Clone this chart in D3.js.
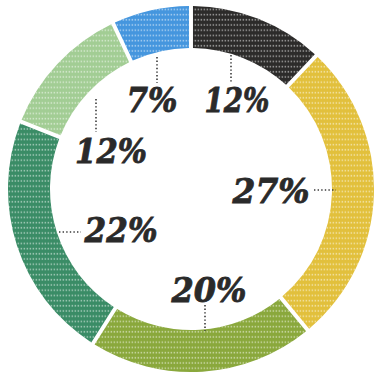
<!DOCTYPE html>
<html>
<head>
<meta charset="utf-8">
<script src="https://cdn.jsdelivr.net/npm/d3@7"></script>
<style>
  html, body { margin: 0; padding: 0; background: #fff; }
  svg { display: block; }
</style>
</head>
<body>
<svg id="chart" width="374" height="375"></svg>
<script>
// Shares, clockwise from 12 o'clock
const segments = ["black", "yellow", "olive", "green", "lightgreen", "blue"];
const shares = [12, 27, 20, 22, 12, 7];
const segmentColors = ["#2c2b2a", "#e2c03c", "#8aa83c", "#3a8c66", "#a2cd94", "#4596de"];
const labelText = shares.map(v => v + "%");

// Where each label and its dotted leader sit
const labelLayout = [
  { x: 237, y: 112, w: 65, leader: [231, 55, 231, 83] },
  { x: 271, y: 203, w: 77, leader: [314, 190, 336, 190] },
  { x: 209, y: 302, w: 75, leader: [205, 305, 205, 331] },
  { x: 121, y: 242, w: 73, leader: [59, 232, 81, 232] },
  { x: 111, y: 163, w: 72, leader: [96, 99, 96, 132] },
  { x: 152, y: 112, w: 51, leader: [157, 57, 157, 83] }
];

const svg = d3.select("#chart");
const cx = 191, cy = 189, rOuter = 183, rInner = 141;

// Dot texture laid over every segment
const defs = svg.append("defs");
const pat = defs.append("pattern")
  .attr("id", "dots")
  .attr("patternUnits", "userSpaceOnUse")
  .attr("width", 3).attr("height", 5.2);
pat.append("rect")
  .attr("x", 0.6).attr("y", 1.6)
  .attr("width", 1.5).attr("height", 1.6)
  .attr("fill", "#fff").attr("opacity", 0.5);

const pie = d3.pie().sort(null).value(d => d).startAngle(0).endAngle(2 * Math.PI);
const arc = d3.arc()
  .innerRadius(rInner).outerRadius(rOuter)
  .padAngle(0.024).padRadius(165);

const arcs = pie(shares);
const g = svg.append("g").attr("transform", `translate(${cx},${cy})`);

g.selectAll("path.seg")
  .data(arcs)
  .join("path")
  .attr("class", "seg")
  .attr("d", arc)
  .attr("fill", (d, i) => segmentColors[i]);

g.selectAll("path.tex")
  .data(arcs)
  .join("path")
  .attr("class", "tex")
  .attr("d", arc)
  .attr("fill", "url(#dots)");

// Dotted leaders
svg.selectAll("line.leader")
  .data(labelLayout)
  .join("line")
  .attr("class", "leader")
  .attr("x1", d => d.leader[0]).attr("y1", d => d.leader[1])
  .attr("x2", d => d.leader[2]).attr("y2", d => d.leader[3])
  .attr("stroke", "#3a3a3a")
  .attr("stroke-width", 1.6)
  .attr("stroke-dasharray", "1.4,2.2");

// Percentage labels
svg.selectAll("text.pct")
  .data(labelLayout)
  .join("text")
  .attr("class", "pct")
  .attr("x", d => d.x).attr("y", d => d.y)
  .attr("text-anchor", "middle")
  .attr("textLength", d => d.w)
  .attr("lengthAdjust", "spacingAndGlyphs")
  .attr("font-family", "'DejaVu Serif', serif")
  .attr("font-weight", "bold")
  .attr("font-style", "italic")
  .attr("font-size", 33)
  .attr("fill", "#2a2a2a")
  .attr("stroke", "#2a2a2a")
  .attr("stroke-width", 0.8)
  .text((d, i) => labelText[i]);
</script>
</body>
</html>
